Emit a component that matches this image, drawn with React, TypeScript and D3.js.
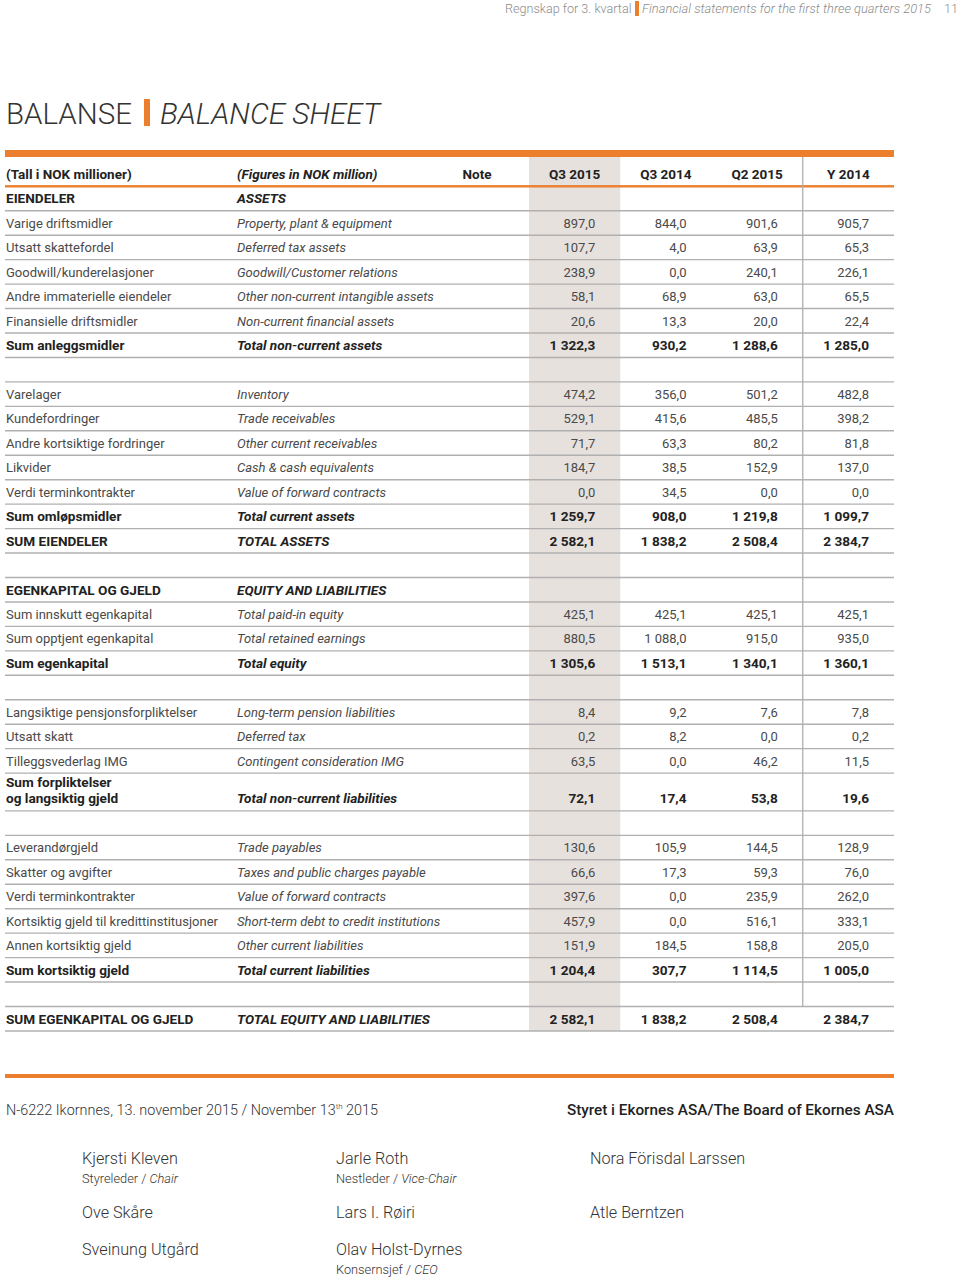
import React from 'react';
import * as d3 from 'd3';

// ---------- DATA ----------
const periods = ['Q3 2015', 'Q3 2014', 'Q2 2015', 'Y 2014'];

const rowKinds = [
  'section', 'item', 'item', 'item', 'item', 'item', 'sum', 'blank',
  'item', 'item', 'item', 'item', 'item', 'sum', 'sumcaps', 'blank',
  'section', 'item', 'item', 'sum', 'blank',
  'item', 'item', 'item', 'sum', 'blank',
  'item', 'item', 'item', 'item', 'item', 'sum', 'blank',
  'sumcaps',
];

const labelsNo = [
  'EIENDELER', 'Varige driftsmidler', 'Utsatt skattefordel', 'Goodwill/kunderelasjoner',
  'Andre immaterielle eiendeler', 'Finansielle driftsmidler', 'Sum anleggsmidler', '',
  'Varelager', 'Kundefordringer', 'Andre kortsiktige fordringer', 'Likvider',
  'Verdi terminkontrakter', 'Sum omløpsmidler', 'SUM EIENDELER', '',
  'EGENKAPITAL OG GJELD', 'Sum innskutt egenkapital', 'Sum opptjent egenkapital', 'Sum egenkapital', '',
  'Langsiktige pensjonsforpliktelser', 'Utsatt skatt', 'Tilleggsvederlag IMG',
  'Sum forpliktelser\nog langsiktig gjeld', '',
  'Leverandørgjeld', 'Skatter og avgifter', 'Verdi terminkontrakter',
  'Kortsiktig gjeld til kredittinstitusjoner', 'Annen kortsiktig gjeld', 'Sum kortsiktig gjeld', '',
  'SUM EGENKAPITAL OG GJELD',
];

const labelsEn = [
  'ASSETS', 'Property, plant & equipment', 'Deferred tax assets', 'Goodwill/Customer relations',
  'Other non-current intangible assets', 'Non-current financial assets', 'Total non-current assets', '',
  'Inventory', 'Trade receivables', 'Other current receivables', 'Cash & cash equivalents',
  'Value of forward contracts', 'Total current assets', 'TOTAL ASSETS', '',
  'EQUITY AND LIABILITIES', 'Total paid-in equity', 'Total retained earnings', 'Total equity', '',
  'Long-term pension liabilities', 'Deferred tax', 'Contingent consideration IMG',
  'Total non-current liabilities', '',
  'Trade payables', 'Taxes and public charges payable', 'Value of forward contracts',
  'Short-term debt to credit institutions', 'Other current liabilities', 'Total current liabilities', '',
  'TOTAL EQUITY AND LIABILITIES',
];

const q3_2015 = [
  null, 897.0, 107.7, 238.9, 58.1, 20.6, 1322.3, null,
  474.2, 529.1, 71.7, 184.7, 0.0, 1259.7, 2582.1, null,
  null, 425.1, 880.5, 1305.6, null,
  8.4, 0.2, 63.5, 72.1, null,
  130.6, 66.6, 397.6, 457.9, 151.9, 1204.4, null,
  2582.1,
];
const q3_2014 = [
  null, 844.0, 4.0, 0.0, 68.9, 13.3, 930.2, null,
  356.0, 415.6, 63.3, 38.5, 34.5, 908.0, 1838.2, null,
  null, 425.1, 1088.0, 1513.1, null,
  9.2, 8.2, 0.0, 17.4, null,
  105.9, 17.3, 0.0, 0.0, 184.5, 307.7, null,
  1838.2,
];
const q2_2015 = [
  null, 901.6, 63.9, 240.1, 63.0, 20.0, 1288.6, null,
  501.2, 485.5, 80.2, 152.9, 0.0, 1219.8, 2508.4, null,
  null, 425.1, 915.0, 1340.1, null,
  7.6, 0.0, 46.2, 53.8, null,
  144.5, 59.3, 235.9, 516.1, 158.8, 1114.5, null,
  2508.4,
];
const y_2014 = [
  null, 905.7, 65.3, 226.1, 65.5, 22.4, 1285.0, null,
  482.8, 398.2, 81.8, 137.0, 0.0, 1099.7, 2384.7, null,
  null, 425.1, 935.0, 1360.1, null,
  7.8, 0.2, 11.5, 19.6, null,
  128.9, 76.0, 262.0, 333.1, 205.0, 1005.0, null,
  2384.7,
];
const seriesValues = [q3_2015, q3_2014, q2_2015, y_2014];

const signColumns = [
  [
    { name: 'Kjersti Kleven', roleNo: 'Styreleder', roleEn: 'Chair' },
    { name: 'Ove Skåre' },
    { name: 'Sveinung Utgård' },
  ],
  [
    { name: 'Jarle Roth', roleNo: 'Nestleder', roleEn: 'Vice-Chair' },
    { name: 'Lars I. Røiri' },
    { name: 'Olav Holst-Dyrnes', roleNo: 'Konsernsjef', roleEn: 'CEO' },
  ],
  [
    { name: 'Nora Förisdal Larssen' },
    { name: 'Atle Berntzen' },
  ],
];

// ---------- STYLE ----------
const ORANGE = '#EC7F2E';
const SHADE = '#E7E1DE';
const LINE = '#B0B0B0';
const FONT = "Roboto, 'Noto Sans', sans-serif";
const DARK = '#222';
const TEXT = '#4a4a4a';
const GREY = '#8c8c8c';

const nok = d3.formatLocale({ decimal: ',', thousands: ' ', grouping: [3], currency: ['', ''] }).format(',.1f');

export default function App() {
  const W = 960;
  const H = 1280;
  const left = 5;
  const right = 894;
  const colNo = 6;
  const colEn = 237;
  const tableTop = 186.3;
  const rowH = 24.45;
  const dblH = 37.8;

  const x = d3.scaleBand<string>().domain(periods).range([529, right]).paddingInner(0).paddingOuter(0);

  const heights = labelsNo.map((l) => (l.includes('\n') ? dblH : rowH));
  const cum = Array.from(d3.cumsum(heights));
  const tops = heights.map((h, i) => tableTop + cum[i] - h);
  const bottoms = tops.map((t, i) => t + heights[i]);
  const tableBottom = bottoms[bottoms.length - 1];

  const isBold = (k: string) => k === 'section' || k === 'sum' || k === 'sumcaps';

  const shadeX = x(periods[0]) as number;
  const vlineX = x(periods[3]) as number;

  return (
    <svg width={W} height={H} style={{ position: 'absolute', left: 0, top: 0, background: '#fff' }} fontFamily={FONT}>
      <rect x={0} y={0} width={W} height={H} fill="#fff" />

      {/* page header */}
      <text x={505} y={13} fontSize={12.6} fontWeight={300} fill={GREY}>Regnskap for 3. kvartal</text>
      <rect x={635} y={1} width={4} height={15} fill={ORANGE} />
      <text x={642} y={13} fontSize={12.9} fontWeight={300} fontStyle="italic" fill={GREY}>
        Financial statements for the first three quarters 2015
      </text>
      <text x={958} y={13} fontSize={12.6} fontWeight={300} fill={GREY} textAnchor="end">11</text>

      {/* title */}
      <text x={6} y={124} fontSize={29.5} fontWeight={300} fill="#333">BALANSE</text>
      <rect x={144} y={99} width={6} height={27} fill={ORANGE} />
      <text x={160} y={124} fontSize={29.8} fontWeight={300} fontStyle="italic" fill="#333">BALANCE SHEET</text>

      {/* shaded first value column */}
      <rect x={shadeX} y={157} width={x.bandwidth()} height={tableBottom - 157} fill={SHADE} />

      {/* orange top bar */}
      <rect x={left} y={150} width={right - left} height={7} fill={ORANGE} />

      {/* header row */}
      <text x={colNo} y={178.5} fontSize={13.5} fontWeight={700} fill={DARK}>(Tall i NOK millioner)</text>
      <text x={colEn} y={178.5} fontSize={13.5} fontWeight={700} fontStyle="italic" fill={DARK}>(Figures in NOK million)</text>
      <text x={477} y={178.5} fontSize={13.5} fontWeight={700} fill={DARK} textAnchor="middle">Note</text>
      {periods.map((p) => (
        <text key={p} x={(x(p) as number) + x.bandwidth() / 2} y={178.5} fontSize={13.5} fontWeight={700} fill={DARK} textAnchor="middle">
          {p}
        </text>
      ))}
      <rect x={left} y={tableTop - 1.2} width={right - left} height={2.4} fill={ORANGE} />

      {/* vertical separator before last column */}
      <line x1={vlineX} x2={vlineX} y1={157} y2={tops[tops.length - 1]} stroke={LINE} strokeWidth={1.3} />

      {/* row bottom lines */}
      {bottoms.map((b, i) => (
        <line key={'l' + i} x1={left} x2={right} y1={b} y2={b} stroke={LINE} strokeWidth={1.4} />
      ))}

      {/* rows */}
      {labelsNo.map((lab, i) => {
        const kind = rowKinds[i];
        if (kind === 'blank') return null;
        const bold = isBold(kind);
        const size = bold ? 13.6 : 13;
        const weight = bold ? 700 : 400;
        const fill = bold ? DARK : TEXT;
        const lines = lab.split('\n');
        const lastBase = tops[i] + heights[i] - rowH / 2 + 4.8;
        return (
          <g key={'r' + i}>
            <text x={colNo} fontSize={size} fontWeight={weight} fill={fill}>
              {lines.map((ln, j) => (
                <tspan key={j} x={colNo} y={lastBase - (lines.length - 1 - j) * 16}>{ln}</tspan>
              ))}
            </text>
            <text x={colEn} y={lastBase} fontSize={size} fontWeight={weight} fontStyle="italic" fill={fill}>
              {labelsEn[i]}
            </text>
            {seriesValues.map((vals, c) => {
              const v = vals[i];
              if (v === null || v === undefined) return null;
              return (
                <text
                  key={'v' + c}
                  x={(x(periods[c]) as number) + x.bandwidth() - 25}
                  y={lastBase}
                  fontSize={bold ? 13.6 : 13}
                  fontWeight={weight}
                  fill={fill}
                  textAnchor="end"
                >
                  {nok(v)}
                </text>
              );
            })}
          </g>
        );
      })}

      {/* bottom orange bar */}
      <rect x={left} y={1074} width={right - left} height={4} fill={ORANGE} />

      <text x={6} y={1115} fontSize={14.4} fontWeight={300} fill="#333">
        N-6222 Ikornnes, 13. november 2015 / November 13
        <tspan fontSize={8} dy={-6}>th</tspan>
        <tspan dy={6}> 2015</tspan>
      </text>
      <text x={right} y={1115} fontSize={15.3} fontWeight={500} fill={DARK} textAnchor="end">
        Styret i Ekornes ASA/The Board of Ekornes ASA
      </text>

      {/* signatures */}
      {signColumns.map((col, ci) =>
        col.map((s: any, ri) => {
          const cx = 82 + ci * 254;
          const cy = [1164, 1218, 1255][ri];
          return (
            <g key={'s' + ci + '-' + ri}>
              <text x={cx} y={cy} fontSize={16.2} fontWeight={300} fill="#333">{s.name}</text>
              {s.roleNo && (
                <text x={cx} y={cy + 18.5} fontSize={12.8} fontWeight={300} fill="#333">
                  {s.roleNo} / <tspan fontStyle="italic">{s.roleEn}</tspan>
                </text>
              )}
            </g>
          );
        })
      )}
    </svg>
  );
}
